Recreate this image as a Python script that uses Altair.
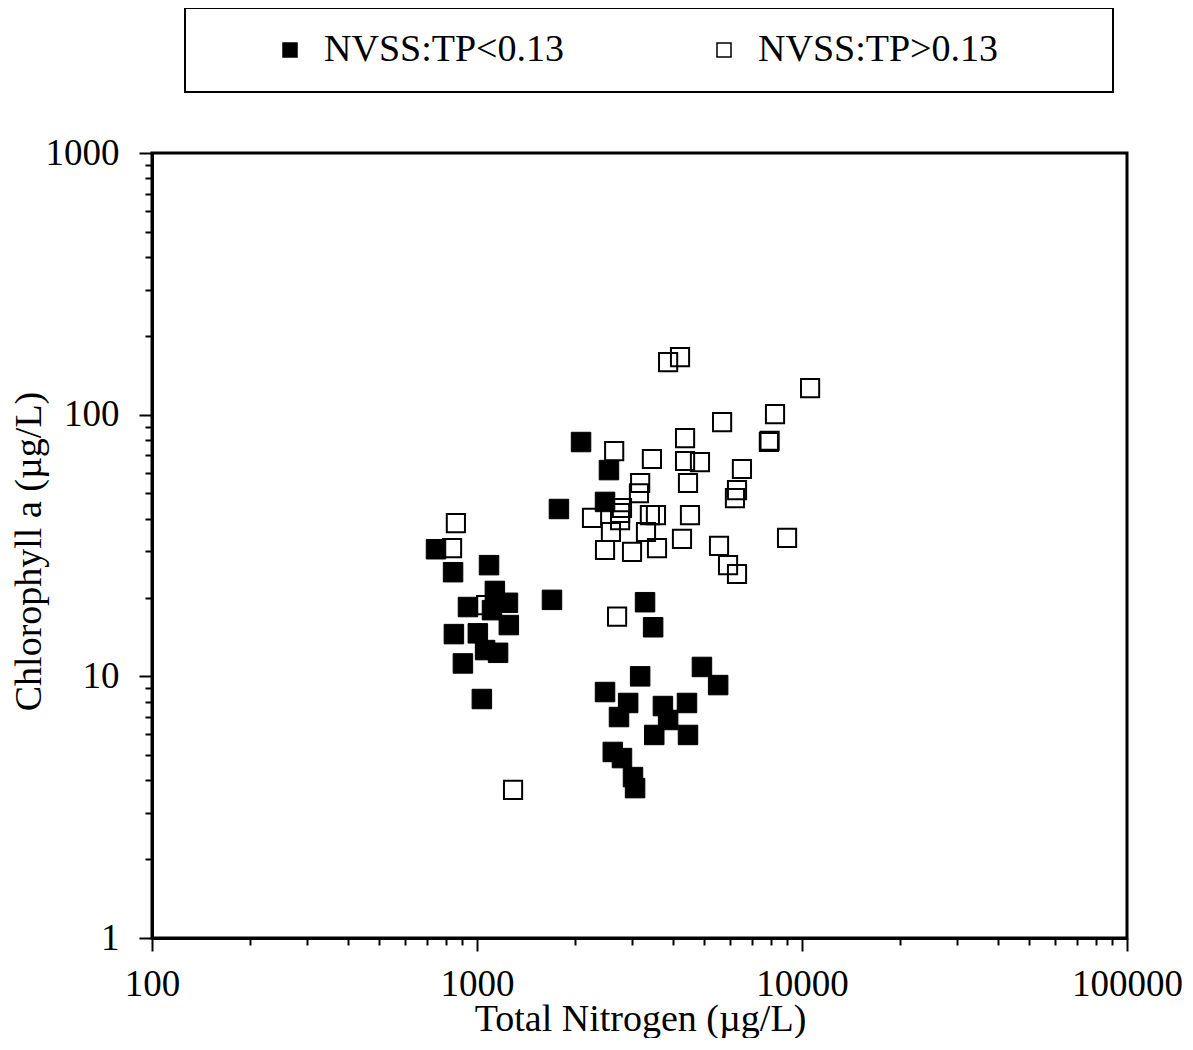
import altair as alt
import pandas as pd

groups = ["NVSS:TP<0.13", "NVSS:TP>0.13"]

# Total nitrogen / chlorophyll a, TP < 0.13 (filled squares)
tn_low = [2090, 2547, 2477, 1787, 748, 844, 1089, 1135, 1245, 938, 1112, 1253,
          849, 1006, 1059, 1161, 905, 1035, 1701, 3289, 3483, 3177, 4922, 5521,
          2477, 2918, 2735, 3733, 4427, 3511, 4459, 3873, 2617, 2793, 3020, 3065]
chl_low = [78.6, 61.4, 46.4, 43.6, 30.6, 25.0, 26.6, 21.2, 19.1, 18.4, 17.9, 15.7,
           14.5, 14.6, 12.6, 12.3, 11.2, 8.19, 19.6, 19.2, 15.4, 10.0, 10.86, 9.26,
           8.71, 7.91, 6.99, 7.7, 7.91, 5.97, 5.97, 6.81, 5.14, 4.87, 4.12, 3.74]

# TP > 0.13 (open squares)
tn_high = [3873, 4214, 10590, 8260, 5677, 7908, 7950, 4367, 2643, 3453, 4367, 4853,
           6534, 4459, 3177, 3150, 6310, 6219, 2793, 2756, 2756, 2259, 2583, 3404,
           3553, 4522, 3311, 2477, 2999, 3580, 4273, 5555, 5922, 6310, 8995, 2698,
           861, 838, 1067, 1291]
chl_high = [158.8, 166, 126.4, 100.5, 93.7, 78.6, 79.5, 81.4, 72.6, 67.7, 66.5, 65.9,
            62.0, 54.8, 54.8, 50.1, 51.5, 48.0, 44.0, 42.1, 39.5, 40.3, 35.6, 41.3,
            41.3, 41.3, 35.6, 30.4, 29.9, 30.9, 33.5, 31.5, 26.6, 24.6, 33.8, 16.9,
            38.5, 30.9, 18.7, 3.68]

x_major = [100, 1000, 10000, 100000]
y_major = [1, 10, 100, 1000]
x_minor = [m * d for d in [100, 1000, 10000] for m in range(2, 10)]
y_minor = [m * d for d in [1, 10, 100] for m in range(2, 10)]

df_low = pd.DataFrame({"tn": tn_low, "chl": chl_low, "group": groups[0]})
df_high = pd.DataFrame({"tn": tn_high, "chl": chl_high, "group": groups[1]})

FONT = "Liberation Serif"

xscale = alt.Scale(type="log", domain=[100, 100000], nice=False)
yscale = alt.Scale(type="log", domain=[1, 1000], nice=False)
fill_scale = alt.Scale(domain=groups, range=["#000000", "transparent"])

legend = alt.Legend(
    title="\u00a0", titleOrient="right", titlePadding=92, titleFontSize=10,
    orient="none", legendX=33, legendY=-145, direction="horizontal",
    strokeColor="black", padding=23, fillColor="white",
    symbolType="square", symbolSize=196, symbolStrokeColor="black", symbolStrokeWidth=1.5,
    symbolOffset=63, labelOffset=15, columnPadding=78, labelLimit=600,
    labelFont=FONT, labelFontSize=38, labelColor="black",
)

x_axis_major = alt.Axis(
    orient="bottom", values=x_major, format="d", grid=False,
    tickSize=13, tickWidth=2, tickColor="black", domainWidth=3, domainColor="black",
    labelFont=FONT, labelFontSize=37, labelColor="black", labelPadding=44,
    labelBaseline="alphabetic", labelFlush=False, labelOverlap=False,
    title="Total Nitrogen (µg/L)", titleFont=FONT, titleFontSize=38,
    titleFontWeight="normal", titleColor="black", titleX=488, titleY=92,
    titleBaseline="alphabetic", titleAlign="center",
)
y_axis_major = alt.Axis(
    orient="left", values=y_major, format="d", grid=False,
    tickSize=13, tickWidth=2, tickColor="black", domainWidth=3, domainColor="black",
    labelFont=FONT, labelFontSize=37, labelColor="black", labelPadding=20,
    labelBaseline="middle", labelFlush=False, labelOverlap=False,
    title="Chlorophyll a (µg/L)", titleFont=FONT, titleFontSize=38,
    titleFontWeight="normal", titleColor="black", titleX=-112, titleY=398,
    titleBaseline="alphabetic", titleAlign="center", titleAngle=270,
)
x_axis_minor = alt.Axis(
    orient="bottom", values=x_minor, grid=False, labels=False, domain=False,
    tickSize=7, tickWidth=2, tickColor="black", title=None,
)
y_axis_minor = alt.Axis(
    orient="left", values=y_minor, grid=False, labels=False, domain=False,
    tickSize=7, tickWidth=2, tickColor="black", title=None,
)

low = alt.Chart(df_low).mark_point(
    shape="square", filled=True, size=380, stroke="black", strokeWidth=1, opacity=1
).encode(
    x=alt.X("tn:Q", scale=xscale, axis=x_axis_major),
    y=alt.Y("chl:Q", scale=yscale, axis=y_axis_major),
    fill=alt.Fill("group:N", scale=fill_scale, legend=legend),
)

high = alt.Chart(df_high).mark_point(
    shape="square", filled=True, size=330, stroke="black", strokeWidth=2, opacity=1
).encode(
    x=alt.X("tn:Q", scale=xscale, axis=x_axis_minor),
    y=alt.Y("chl:Q", scale=yscale, axis=y_axis_minor),
    fill=alt.Fill("group:N", scale=fill_scale, legend=legend),
)

chart = alt.layer(low, high).resolve_axis(
    x="independent", y="independent"
).properties(
    width=975, height=785,
    autosize=alt.AutoSizeParams(type="none"),
    padding={"left": 144, "top": 145, "right": 57, "bottom": 100},
).configure_view(
    stroke="black", strokeWidth=3
).configure_legend(
    strokeWidth=2
)

chart.save("out.html", embed_options={"renderer": "svg", "actions": False})
